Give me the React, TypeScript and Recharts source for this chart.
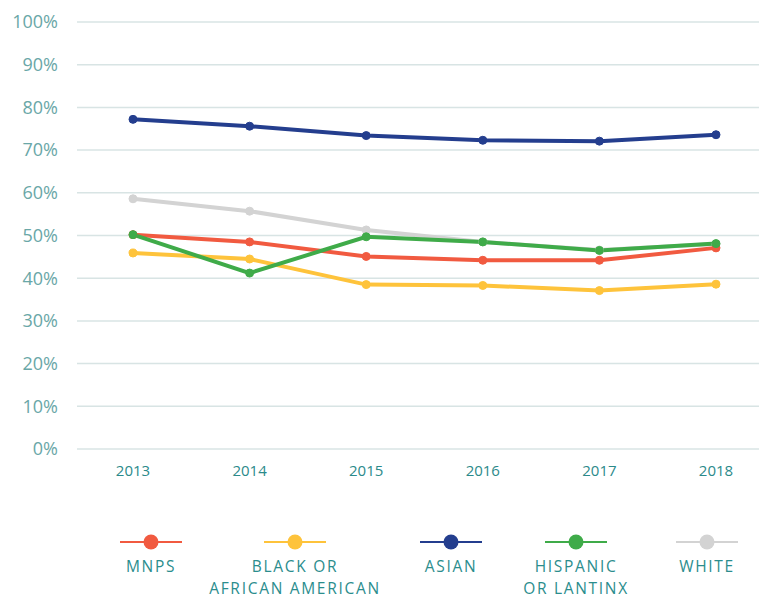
import { LineChart, Line, XAxis, YAxis, CartesianGrid } from "recharts";

const years = ["2013", "2014", "2015", "2016", "2017", "2018"];
const mnps = [50.2, 48.5, 45.1, 44.2, 44.2, 47.1];
const black = [45.9, 44.5, 38.5, 38.3, 37.1, 38.6];
const asian = [77.2, 75.6, 73.4, 72.3, 72.1, 73.6];
const hispanic = [50.2, 41.2, 49.7, 48.5, 46.5, 48.1];
const white = [58.6, 55.7, 51.3, 48.5, 46.6, 48.0];
const yTicks = [0, 10, 20, 30, 40, 50, 60, 70, 80, 90, 100];

const series = [
  { key: "white", label: ["WHITE"], color: "#d3d3d3", values: white },
  { key: "black", label: ["BLACK OR", "AFRICAN AMERICAN"], color: "#fec33b", values: black },
  { key: "mnps", label: ["MNPS"], color: "#f15a40", values: mnps },
  { key: "hispanic", label: ["HISPANIC", "OR LANTINX"], color: "#3fab49", values: hispanic },
  { key: "asian", label: ["ASIAN"], color: "#243e8e", values: asian },
];

const legendOrder = ["mnps", "black", "asian", "hispanic", "white"];
const legendX = [151, 295, 451, 576, 707];

const data = years.map((year, i) => {
  const row: Record<string, string | number> = { year };
  series.forEach((s) => (row[s.key] = s.values[i]));
  return row;
});

const font = "'Open Sans', sans-serif";

export default function App() {
  return (
    <div style={{ position: "relative", width: 767, height: 599, margin: "-8px 0 0 -8px", background: "#fff", fontFamily: font }}>
      <LineChart width={767} height={599} data={data} margin={{ top: 22, right: 0, left: 0, bottom: 120 }}>
        <CartesianGrid vertical={false} stroke="#d8e4e4" strokeWidth={1.5} />
        <XAxis
          dataKey="year"
          padding={{ left: 56, right: 51 }}
          axisLine={false}
          tickLine={false}
          tickSize={0}
          tickMargin={16}
          height={30}
          tick={{ fill: "#2b8a8a", fontSize: 15, fontFamily: font }}
        />
        <YAxis
          domain={[0, 100]}
          ticks={yTicks}
          width={77}
          axisLine={false}
          tickLine={false}
          tickSize={0}
          tickMargin={19}
          tickFormatter={(v) => `${v}%`}
          tick={{ fill: "#6aa7a7", fontSize: 18, fontFamily: font }}
        />
        {series.map((s) => (
          <Line
            key={s.key}
            dataKey={s.key}
            stroke={s.color}
            strokeWidth={4}
            dot={{ r: 4, fill: s.color, stroke: s.color, strokeWidth: 1 }}
            activeDot={false}
            isAnimationActive={false}
          />
        ))}
      </LineChart>
      {legendOrder.map((k, i) => {
        const s = series.find((x) => x.key === k)!;
        return (
          <div key={k} style={{ position: "absolute", left: legendX[i] - 100, top: 531, width: 200, textAlign: "center" }}>
            <svg width={64} height={22} style={{ display: "block", margin: "0 auto" }}>
              <line x1={1} y1={11} x2={63} y2={11} stroke={s.color} strokeWidth={2} />
              <circle cx={32} cy={11} r={7.5} fill={s.color} />
            </svg>
            <div style={{ color: "#2b8d8d", fontSize: 15.5, letterSpacing: 1.7, lineHeight: "21.5px", marginTop: 3 }}>
              {s.label.map((t) => (
                <div key={t}>{t}</div>
              ))}
            </div>
          </div>
        );
      })}
    </div>
  );
}
